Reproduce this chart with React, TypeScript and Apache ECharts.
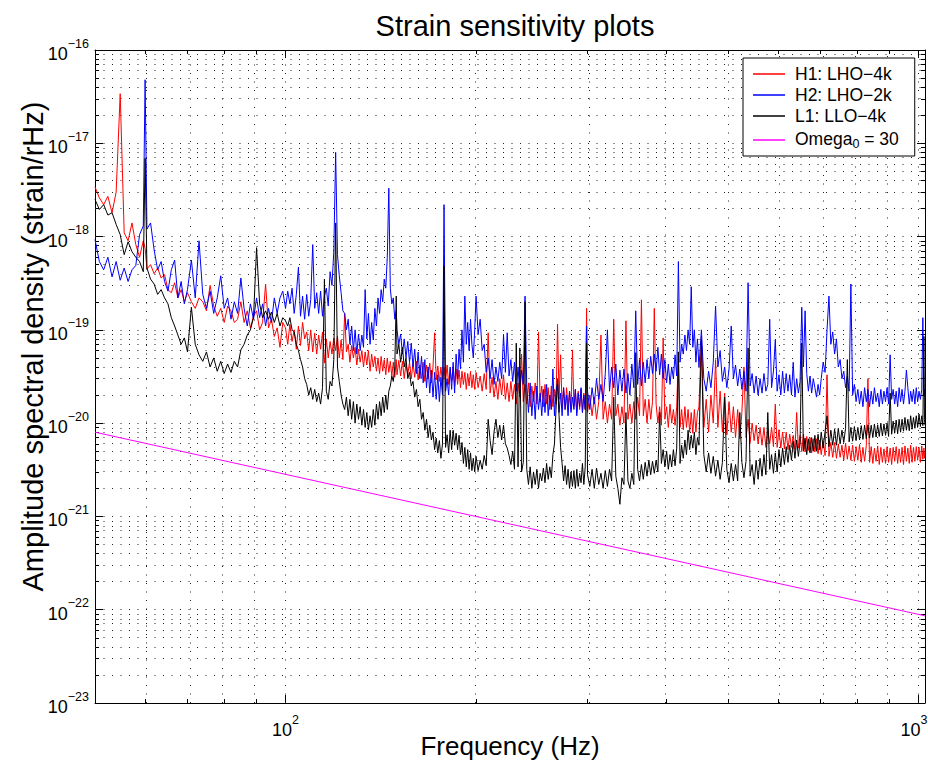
import React, { useEffect, useRef } from "react";
import * as echarts from "echarts";

// Amplitude spectral densities are stored in units of 1e-21 strain/rHz
const ASD_UNIT_EXP = -21;

// Frequency bins (Hz) shared by the three interferometer spectra
const FREQ_HZ = [
  50, 50.8, 51.6, 52.4, 53.2, 54, 54.8, 55.6, 56.4, 57.2,
  58, 58.8, 59.6, 60, 60.4, 61.2, 62, 62.8, 63.6, 64.4,
  65.2, 66, 66.8, 67.6, 68.4, 69.2, 70, 71, 72, 73,
  74, 75, 76, 77, 78, 79, 80, 81, 82, 83,
  84, 85, 86, 87, 88, 89, 90, 91, 92, 93,
  94, 95, 96, 97, 98, 99,
  100, 100.8, 101.6, 102.4, 103.2, 104, 104.8, 105.6, 106.4, 107.2,
  108, 108.8, 109.6, 110.4, 111.2, 112, 112.8, 113.6, 114.4, 115.2,
  116, 116.8, 117.6, 118.4, 119.2, 120, 120.8, 121.6, 122.4, 123.2,
  124, 124.8, 125.6, 126.4, 127.2, 128, 128.8, 129.6, 130.4, 131.2,
  132, 132.8, 133.6, 134.4, 135.2, 136, 136.8, 137.6, 138.4, 139.2,
  140, 140.8, 141.6, 142.4, 143.2, 144, 144.8, 145.6, 146.4, 147.2,
  148, 148.8, 149.6, 150, 151, 152, 153, 154, 155, 156,
  157, 158, 159, 160, 161, 162, 163, 164, 165, 166,
  167, 168, 169, 170, 171, 172, 173, 174, 175, 176,
  177, 178, 179, 180, 181, 182, 183, 184, 185, 186,
  187, 188, 189, 190, 191, 192, 193, 194, 195, 196,
  197, 198, 199, 200, 201.5, 203, 204.5, 206, 207.5, 209,
  210.5, 212, 213.5, 215, 216.5, 218, 219.5, 221, 222.5, 224,
  225.5, 227, 228.5, 230, 231.5, 233, 234.5, 236, 237.5, 239,
  240.5, 242, 243.5, 245, 246.5, 248, 249.5, 251, 252.5, 254,
  255.5, 257, 258.5, 260, 261.5, 263, 264.5, 266, 267.5, 269,
  270.5, 272, 273.5, 275, 276.5, 278, 279.5, 281, 282.5, 284,
  285.5, 287, 288.5, 290, 291.5, 293, 294.5, 296, 297.5, 299,
  300, 302.5, 305, 307.5, 310, 312.5, 315, 317.5, 320, 322.5,
  325, 327.5, 330, 332.5, 335, 337.5, 340, 342.5, 345, 347.5,
  350, 352.5, 355, 357.5, 360, 362.5, 365, 367.5, 370, 372.5,
  375, 377.5, 380, 382.5, 385, 387.5, 390, 392.5, 395, 397.5,
  400, 402.5, 405, 407.5, 410, 412.5, 415, 417.5, 420, 422.5,
  425, 427.5, 430, 432.5, 435, 437.5, 440, 442.5, 445, 447.5,
  450, 454, 458, 462, 466, 470, 474, 478, 482, 486,
  490, 494, 498, 502, 506, 510, 514, 518, 522, 526,
  530, 534, 538, 542, 546, 550, 554, 558, 562, 566,
  570, 574, 578, 582, 586, 590, 594, 598, 602, 606,
  610, 614, 618, 622, 626, 630, 634, 638, 642, 646,
  650, 654, 658, 662, 666, 670, 674, 678, 682, 686,
  690, 694, 698, 702, 707, 712, 717, 722, 727, 732,
  737, 742, 747, 752, 757, 762, 767, 772, 777, 782,
  787, 792, 797, 802, 807, 812, 817, 822, 827, 832,
  837, 842, 847, 852, 857, 862, 867, 872, 877, 882,
  887, 892, 897, 902, 907, 912, 917, 922, 927, 932,
  937, 942, 947, 952, 957, 962, 967, 972, 977, 982,
  987, 992, 997, 1002, 1007, 1012, 1016, 1020, 1022, 1024,
];

// H1: LHO-4k (x 1e-21 strain/rHz)
const H1_ASD = [
  3400, 2600, 2200, 2700, 1800, 3000, 34000, 1100, 900, 1400,
  820, 600, 900, 750, 450, 500, 400, 460, 360, 390,
  270, 250, 320, 220, 270, 200, 250, 200, 170, 220,
  200, 160, 300, 180, 140, 170, 120, 180, 160, 120,
  130, 200, 120, 160, 105, 140, 160, 100, 120, 310,
  105, 130, 85, 105, 65, 120,
  105, 70, 115, 75, 100, 62, 110, 68, 120, 80,
  95, 60, 100, 58, 92, 55, 88, 62, 95, 44,
  80, 50, 75, 55, 82, 60, 85, 50, 78, 48,
  150, 58, 70, 45, 68, 50, 65, 42, 62, 45,
  60, 40, 58, 42, 60, 36, 55, 40, 52, 36,
  50, 34, 52, 36, 48, 33, 50, 35, 46, 32,
  45, 31, 48, 33, 47, 32, 46, 30, 44, 33,
  45, 30, 44, 31, 46, 29, 42, 30, 45, 28,
  42, 30, 44, 27, 40, 93, 29, 41, 28, 40,
  27, 39, 28, 42, 26, 38, 28, 40, 25, 38,
  26, 37, 24, 36, 26, 35, 23, 34, 25, 36,
  24, 33, 23, 35, 24, 32, 22, 34, 23, 93,
  21, 31, 19, 28, 18, 30, 20, 33, 18, 27,
  17, 28, 18, 26, 16, 27, 19, 55, 17, 26,
  16, 27, 15, 25, 17, 27, 16, 95, 17, 25,
  15, 26, 16, 24, 14, 25, 15, 23, 16, 115,
  18, 54, 15, 24, 14, 24, 15, 22, 14, 61,
  15, 23, 13, 22, 14, 23, 13, 21, 14, 170,
  13, 20, 12, 19, 11, 17, 88, 11, 17, 10,
  16, 11, 130, 12, 16, 9.5, 15, 10, 125, 11,
  16, 10, 17, 11, 19, 12, 210, 12, 18, 10,
  18, 11, 17, 170, 16, 10, 15, 9.5, 82, 11,
  15, 9, 16, 10, 14, 9.5, 15, 58, 9, 14,
  8.5, 15, 9, 14, 8, 13, 7.8, 14, 8, 13,
  15, 85, 9, 18, 8, 20, 10, 48, 9, 22,
  8, 21, 7.5, 17, 8, 15, 7, 14, 6.8, 13,
  40, 7, 11, 6.2, 10, 6.5, 9.5, 6, 9, 5.8,
  9, 5.5, 8.5, 6, 9, 5.6, 16, 5.5, 8.5, 5.4,
  8, 5.3, 8, 5.2, 7.6, 5.5, 7.4, 5.2, 13, 5.4,
  7.4, 5, 7.6, 4.9, 7.2, 5.1, 7, 4.8, 6.8, 4.9,
  6.8, 4.7, 6.6, 4.6, 6.5, 4.5, 33, 4.4, 6.2, 4.3,
  6.2, 4.2, 6.0, 4.3, 5.8, 4.0, 6.1, 4.1, 5.7, 4.0,
  5.8, 3.9, 5.6, 4.0, 5.9, 3.8, 5.5, 3.9, 5.7, 30,
  3.8, 5.6, 3.7, 5.4, 3.9, 5.7, 3.6, 5.5, 3.8, 5.3,
  3.7, 5.6, 3.8, 5.4, 3.6, 5.5, 3.9, 5.6, 3.7, 5.3,
  3.8, 5.5, 3.6, 5.7, 3.9, 5.4, 3.7, 5.8, 3.8, 5.5,
  3.9, 5.6, 4.0, 5.5, 3.8, 5.7, 4.1, 5.4, 4.2, 5.0,
];

// H2: LHO-2k (x 1e-21 strain/rHz)
const H2_ASD = [
  930, 540, 440, 600, 370, 540, 340, 460, 330, 440,
  490, 1050, 1300, 48000, 1200, 1400, 720, 440, 540, 330,
  260, 440, 560, 220, 330, 190, 270, 560, 220, 900,
  240, 170, 260, 150, 220, 380, 170, 220, 130, 200,
  150, 360, 170, 110, 190, 130, 220, 135, 190, 110,
  170, 120, 220, 150, 220, 260,
  170, 260, 190, 280, 150, 240, 470, 140, 230, 130,
  240, 140, 210, 820, 170, 250, 150, 260, 140, 230,
  280, 180, 420, 300, 700, 8000, 640, 380, 250, 160,
  150, 100, 130, 70, 110, 60, 100, 55, 90, 60,
  88, 65, 270, 80, 150, 70, 120, 78, 170, 110,
  220, 150, 270, 200, 350, 280, 600, 3300, 280, 190,
  220, 130, 160, 100, 70, 90, 55, 80, 50, 75,
  45, 72, 40, 62, 34, 58, 30, 52, 27, 48,
  24, 40, 21, 37, 19, 35, 18, 33, 17, 31,
  20, 2200, 22, 30, 20, 40, 23, 45, 21, 55,
  30, 62, 38, 100, 45, 230, 70, 120, 60, 130,
  70, 50, 100, 230, 90, 130, 60, 70, 35, 50,
  30, 48, 26, 40, 28, 45, 30, 88, 35, 93,
  32, 48, 28, 45, 22, 40, 21, 37, 26, 230,
  24, 13, 27, 12, 22, 11, 25, 14, 21, 12,
  23, 13, 26, 12, 20, 14, 38, 12, 22, 27,
  13, 21, 12, 24, 14, 20, 12, 22, 13, 19,
  14, 23, 12, 21, 15, 24, 13, 20, 14, 110,
  22, 14, 24, 16, 30, 18, 26, 17, 34, 100,
  22, 40, 24, 43, 20, 37, 22, 38, 21, 34,
  20, 43, 24, 160, 26, 48, 25, 45, 27, 48,
  30, 52, 34, 55, 36, 65, 33, 55, 30, 48,
  27, 43, 26, 40, 30, 54, 32, 540, 45, 70,
  55, 88, 60, 100, 70, 290, 65, 100, 45, 80,
  40, 100, 30, 22, 36, 24, 45, 180, 40, 60,
  28, 40, 24, 38, 110, 30, 42, 25, 38, 23,
  36, 22, 320, 25, 34, 21, 32, 20, 30, 21,
  34, 22, 26, 130, 24, 36, 78, 22, 33, 20,
  36, 21, 34, 22, 33, 20, 45, 19, 30, 21,
  28, 175, 40, 160, 34, 22, 32, 21, 30, 24,
  19, 26, 20, 30, 45, 35, 100, 230, 70, 95,
  55, 80, 40, 48, 30, 36, 24, 32, 22, 310,
  20, 26, 17, 23, 16, 22, 15, 24, 17, 23,
  15, 22, 16, 24, 17, 21, 15, 23, 16, 22,
  17, 24, 16, 54, 18, 23, 16, 22, 15, 24,
  17, 23, 16, 22, 37, 24, 16, 22, 17, 23,
  16, 24, 17, 22, 18, 23, 135, 20, 23, 19,
];

// L1: LLO-4k (x 1e-21 strain/rHz)
const L1_ASD = [
  2500, 1950, 2200, 1700, 1800, 1350, 1050, 640, 880, 690,
  600, 540, 420, 6900, 460, 350, 310, 240, 270, 220,
  190, 135, 110, 88, 70, 82, 58, 175, 70, 54,
  46, 58, 40, 50, 36, 46, 34, 43, 35, 46,
  40, 61, 70, 88, 100, 135, 760, 190, 135, 160,
  130, 155, 120, 150, 110, 135,
  125, 110, 135, 100, 95, 70, 60, 48, 40, 30,
  26, 20, 24, 18, 23, 17, 21, 16, 24, 350,
  22, 18, 28, 25, 48, 1400, 40, 28, 20, 16,
  14, 19, 12, 18, 11, 17, 10, 16, 11, 15,
  9.5, 14, 9, 13, 8.5, 12, 9, 14, 9.5, 16,
  11, 17, 12, 19, 13, 20, 14, 22, 25, 32,
  28, 40, 230, 55, 70, 45, 65, 40, 50, 30,
  35, 25, 28, 19, 23, 15, 18, 11, 13, 8.4,
  11, 7, 9.5, 6.6, 8, 5.2, 6.9, 4.8, 6.5, 4.2,
  6, 480, 5.5, 7.5, 4.8, 8.4, 5.2, 8.4, 5.8, 7.8,
  5.2, 7.4, 4.6, 6.2, 3.7, 5.5, 3.4, 5.2, 3.2, 4.8,
  3.1, 4.2, 3.0, 4.4, 3.1, 4.0, 3.2, 4.5, 3.5, 11,
  6.5, 4.6, 8, 11, 7, 9.5, 6.6, 9.5, 6, 5.4,
  4.5, 3.6, 5, 3.2, 72, 3.4, 64, 3.0, 3.8, 200,
  3.2, 2.2, 3.4, 2.0, 3.0, 2.2, 3.2, 2.0, 2.9, 2.4,
  3.3, 2.3, 3.7, 2.5, 3.4, 2.6, 4.6, 6, 14, 30,
  12, 5.5, 3.7, 2.4, 3.5, 2.2, 3.2, 2.0, 3.0, 2.1,
  3.1, 2.0, 3.2, 2.1, 2.9, 2.3, 3.7, 2.2, 3.4, 72,
  2.8, 2.1, 3.2, 2.0, 3.3, 2.2, 2.9, 2.0, 3.1, 2.1,
  3.2, 2.4, 19, 2.7, 2.0, 1.35, 2.6, 2.2, 13, 2.4,
  2.0, 2.9, 2.2, 57, 3.2, 2.4, 3.6, 2.5, 3.8, 2.7,
  4.0, 2.8, 3.9, 2.9, 4.0, 3.0, 13, 3.7, 5.2, 3.4,
  5.0, 3.2, 4.6, 3.4, 5.2, 3.5, 5.4, 58, 3.7, 5.8,
  4.2, 6.6, 4.6, 8.4, 5.2, 7.4, 5.4, 8.0, 4.6, 7.0,
  5.8, 78, 4.6, 3.0, 4.8, 2.9, 4.4, 2.7, 4.0, 2.5,
  3.8, 19, 3.2, 2.3, 3.7, 2.4, 3.6, 2.4, 13, 3.8,
  2.6, 3.9, 64, 2.7, 3.6, 2.2, 4.0, 2.5, 4.2, 2.7,
  4.6, 2.8, 13, 3.2, 4.6, 2.9, 4.8, 3.0, 5.2, 3.4,
  5.4, 3.6, 5.6, 3.8, 5.8, 4.0, 6.4, 4.2, 6.6, 4.4,
  6.3, 72, 5.0, 6.9, 4.6, 6.8, 4.8, 7.0, 5.0, 7.4,
  5.0, 7.6, 5.2, 8.0, 5.4, 8.2, 12, 5.6, 8.4, 5.8,
  8.6, 5.8, 8.8, 6.0, 8.4, 6.2, 8.8, 48, 6.3, 9.0,
  6.4, 9.2, 6.5, 9.0, 6.6, 9.4, 6.7, 9.5, 6.8, 9.6,
  6.9, 9.5, 7.0, 9.8, 7.1, 9.6, 7.2, 10, 7.3, 9.8,
  7.4, 10, 7.2, 21, 7.6, 10.5, 7.8, 10.8, 7.7, 11,
  8.0, 11, 8.2, 11.5, 8.4, 11, 8.3, 12, 8.6, 11.5,
  8.8, 12, 9.0, 12.5, 9.2, 12, 9.4, 85, 11, 9.5,
];

// Omega_0 = 30 stochastic background curve (straight in log-log), x 1e-21
const OMEGA_FREQ_HZ = [50, 1024];
const OMEGA_ASD = [8.0, 0.086];

const SERIES_NAMES = ["H1: LHO−4k", "H2: LHO−2k", "L1: LLO−4k", "Omega0 = 30"];
const SERIES_COLORS = ["#ff0000", "#0000ff", "#000000", "#ff00ff"];

// Axis ticks
const X_RANGE_HZ = [50, 1024];
const X_MAJOR_HZ = [100, 1000];
const X_MINOR_HZ = [60, 70, 80, 90, 200, 300, 400, 500, 600, 700, 800, 900];
const Y_DECADES = [-23, -22, -21, -20, -19, -18, -17, -16];
const Y_MINOR_MULT = [2, 3, 4, 5, 6, 7, 8, 9];

const FONT = "'Liberation Sans', Arial, Helvetica, sans-serif";

export default function App() {
  const ref = useRef<HTMLDivElement>(null);

  useEffect(() => {
    if (!ref.current) return;
    const chart = echarts.init(ref.current, undefined, { renderer: "svg" });

    const xMin = Math.log10(X_RANGE_HZ[0]);
    const xMax = Math.log10(X_RANGE_HZ[1]);
    const xMajor = X_MAJOR_HZ.map((v) => Math.log10(v));
    const xMinor = X_MINOR_HZ.map((v) => Math.log10(v));
    const yMin = Y_DECADES[0];
    const yMax = Y_DECADES[Y_DECADES.length - 1];
    const yMajor = Y_DECADES.slice();
    const yMinor: number[] = [];
    Y_DECADES.slice(0, -1).forEach((e) => Y_MINOR_MULT.forEach((k) => yMinor.push(e + Math.log10(k))));

    const toPts = (freqs: number[], vals: number[]) => {
      const n = Math.min(freqs.length, vals.length);
      const out: number[][] = [];
      for (let i = 0; i < n; i++) out.push([Math.log10(freqs[i]), Math.log10(vals[i]) + ASD_UNIT_EXP]);
      return out;
    };

    const supB = { fontSize: 18, lineHeight: 26, verticalAlign: "bottom", fontFamily: FONT, color: "#000" };
    const supE = { fontSize: 12.5, lineHeight: 12, verticalAlign: "top", fontFamily: FONT, color: "#000" };
    const supRich = {
      b: supB,
      e: supE,
      // last x label sits at the right border: nudge it so it stays on the canvas
      bl: { ...supB, padding: [0, 0, 0, 0] },
      el: { ...supE, padding: [0, 9, 0, 0] },
    };

    const tickLine = { color: "#000", width: 1 };
    const mkX = (position: string, ticks: number[], len: number, main: boolean, line: boolean) => ({
      type: "value",
      position,
      min: xMin,
      max: xMax,
      axisLine: { show: line, onZero: false, lineStyle: { color: "#000", width: 1 } },
      axisTick: { show: true, inside: true, length: len, customValues: ticks, lineStyle: tickLine },
      axisLabel: main
        ? {
            show: true,
            customValues: xMajor,
            margin: 10,
            hideOverlap: false,
            formatter: (v: number) =>
              v > 2.5 ? `{bl|10}{el|${Math.round(v)}}` : `{b|10}{e|${Math.round(v)}}`,
            rich: supRich,
          }
        : { show: false },
      splitLine: { show: false },
      name: main ? "Frequency (Hz)" : "",
      nameLocation: "middle",
      nameGap: 30,
      nameMoveOverlap: false,
      nameTextStyle: { fontSize: 26, color: "#000", fontFamily: FONT },
    });
    const mkY = (position: string, ticks: number[], len: number, main: boolean, line: boolean) => ({
      type: "value",
      position,
      min: yMin,
      max: yMax,
      axisLine: { show: line, onZero: false, lineStyle: { color: "#000", width: 1 } },
      axisTick: { show: true, inside: true, length: len, customValues: ticks, lineStyle: tickLine },
      axisLabel: main
        ? {
            show: true,
            customValues: yMajor,
            margin: 6,
            formatter: (v: number) => `{b|10}{e|−${Math.abs(Math.round(v))}}`,
            rich: supRich,
          }
        : { show: false },
      splitLine: { show: false },
      name: main ? "Amplitude spectral density (strain/rHz)" : "",
      nameLocation: "middle",
      nameGap: 48,
      nameMoveOverlap: false,
      nameRotate: 90,
      nameTextStyle: { fontSize: 29, color: "#000", fontFamily: FONT, padding: [0, 0, 0, 60] },
    });

    const gridLines = [
      ...xMinor.map((v) => ({ xAxis: v })),
      ...xMajor.map((v) => ({ xAxis: v })),
      ...yMinor.map((v) => ({ yAxis: v })),
      ...yMajor.slice(1, -1).map((v) => ({ yAxis: v })),
    ];

    const lineSeries = (name: string, color: string, data: number[][]) => ({
      type: "line",
      name,
      data,
      xAxisIndex: 0,
      yAxisIndex: 0,
      symbol: "none",
      showSymbol: false,
      silent: true,
      z: 3,
      lineStyle: { color, width: 1 },
      itemStyle: { color },
      emphasis: { disabled: true },
    });

    chart.setOption({
      animation: false,
      textStyle: { fontFamily: FONT },
      title: {
        text: "Strain sensitivity plots",
        left: 510,
        textAlign: "center",
        top: 6,
        textStyle: { fontSize: 29, fontWeight: "normal", color: "#000", fontFamily: FONT },
      },
      grid: { left: 95, right: 3, top: 50, bottom: 64, containLabel: false, outerBoundsMode: "none" },
      xAxis: [
        mkX("bottom", xMajor, 8, true, true),
        mkX("bottom", xMinor, 4, false, false),
        mkX("top", xMajor, 8, false, true),
        mkX("top", xMinor, 4, false, false),
      ],
      yAxis: [
        mkY("left", yMajor, 8, true, true),
        mkY("left", yMinor, 4, false, false),
        mkY("right", yMajor, 8, false, true),
        mkY("right", yMinor, 4, false, false),
      ],
      legend: {
        data: SERIES_NAMES,
        orient: "vertical",
        left: 743,
        top: 58,
        padding: [6, 16, 6, 10],
        icon: "rect",
        itemWidth: 32,
        itemHeight: 1.5,
        itemGap: 1,
        selectedMode: false,
        backgroundColor: "#fff",
        borderColor: "#000",
        borderWidth: 1,
        borderRadius: 0,
        textStyle: {
          fontSize: 17.5,
          lineHeight: 20,
          color: "#000",
          fontFamily: FONT,
          padding: [0, 0, 0, 5],
          rich: {
            n: { fontSize: 17.5, lineHeight: 20, verticalAlign: "top", color: "#000", fontFamily: FONT },
            s: { fontSize: 12.5, lineHeight: 12, padding: [10, 0, 0, 0], verticalAlign: "bottom", color: "#000", fontFamily: FONT },
          },
        },
        formatter: (name: string) => (name === "Omega0 = 30" ? "{n|Omega}{s|0}{n| = 30}" : name),
      },
      series: [
        {
          type: "line",
          name: "_grid",
          data: [[2, -20]],
          symbol: "none",
          silent: true,
          z: 1,
          lineStyle: { opacity: 0 },
          markLine: {
            silent: true,
            z: 1,
            symbol: ["none", "none"],
            label: { show: false },
            emphasis: { disabled: true },
            animation: false,
            lineStyle: { color: "#222", width: 1, type: [1, 7.5] },
            data: gridLines,
          },
        },
        lineSeries(SERIES_NAMES[0], SERIES_COLORS[0], toPts(FREQ_HZ, H1_ASD)),
        lineSeries(SERIES_NAMES[1], SERIES_COLORS[1], toPts(FREQ_HZ, H2_ASD)),
        lineSeries(SERIES_NAMES[2], SERIES_COLORS[2], toPts(FREQ_HZ, L1_ASD)),
        lineSeries(SERIES_NAMES[3], SERIES_COLORS[3], toPts(OMEGA_FREQ_HZ, OMEGA_ASD)),
      ],
    });

    return () => chart.dispose();
  }, []);

  return (
    <div
      ref={ref}
      style={{ position: "absolute", left: 0, top: 0, width: 928, height: 767, background: "#fff" }}
    />
  );
}
